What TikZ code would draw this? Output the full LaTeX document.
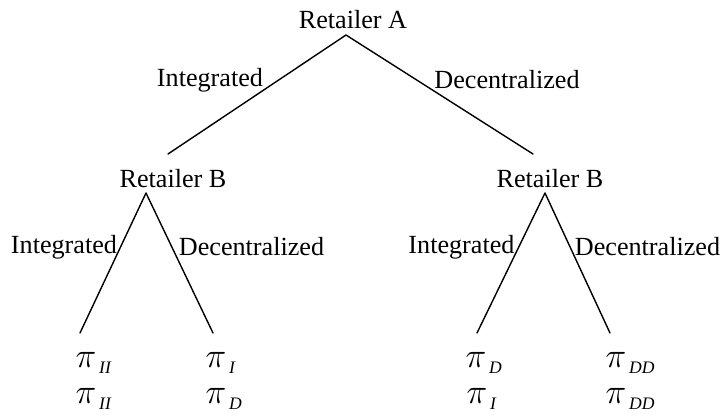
\documentclass[tikz,border=0pt]{standalone}
\usepackage{fontspec}
\setmainfont{Liberation Serif}
\usepackage{tikz}
\usetikzlibrary{calc}
\tikzset{
every picture/.append style={
    line join=round,
    line cap=round,
    line width=1pt
  },
lbl/.style={inner sep=0pt, font=\fontsize{18.6}{22}\selectfont},
payoff/.style={inner sep=0pt, anchor=base west, font=\fontsize{24.88}{28}\selectfont}}
\newcommand{\pay}[1]{$\pi$\kern2pt\raisebox{-4.5pt}{\fontsize{12.5}{14}\selectfont\itshape #1}}

\begin{document}
\begin{tikzpicture}[x=0.025cm,y=-0.025cm]
        \useasboundingbox (0,0) rectangle (724,415);
        \node [lbl] (A) at (353,20) {Retailer A};
        \node [lbl] (B1) at (173,179) {Retailer B};
        \node [lbl] (B2) at (550,179) {Retailer B};

        \coordinate (a0) at (346,35);
        \coordinate (a1) at (168,154);
        \coordinate (a2) at (533,154);
        \coordinate (b1) at (146,193);
        \coordinate (b2) at (545,193);
        \coordinate (l1) at (80,333);
        \coordinate (l2) at (213,333);
        \coordinate (l3) at (477,333);
        \coordinate (l4) at (610,333);

        \draw (a1) -- (a0) -- (a2);
        \draw (l1) -- (b1) -- (l2);
        \draw (l3) -- (b2) -- (l4);

        \node [lbl] (i0) at (210,80) {Integrated};
        \node [lbl] (d0) at (507,80) {Decentralized};
        \node [lbl] (i1) at (64,247) {Integrated};
        \node [lbl] (d1) at (251.5,247) {Decentralized};
        \node [lbl] (i2) at (461.5,247) {Integrated};
        \node [lbl] (d2) at (647.5,247) {Decentralized};

        \node [payoff] (p11) at (75,367) {\pay{II}};
        \node [payoff] (p12) at (75,403) {\pay{II}};
        \node [payoff] (p21) at (205,367) {\pay{I}};
        \node [payoff] (p22) at (205,403) {\pay{D}};
        \node [payoff] (p31) at (465,367) {\pay{D}};
        \node [payoff] (p32) at (466,403) {\pay{I}};
        \node [payoff] (p41) at (605,367) {\pay{DD}};
        \node [payoff] (p42) at (605,403) {\pay{DD}};
    \end{tikzpicture}
\end{document}
